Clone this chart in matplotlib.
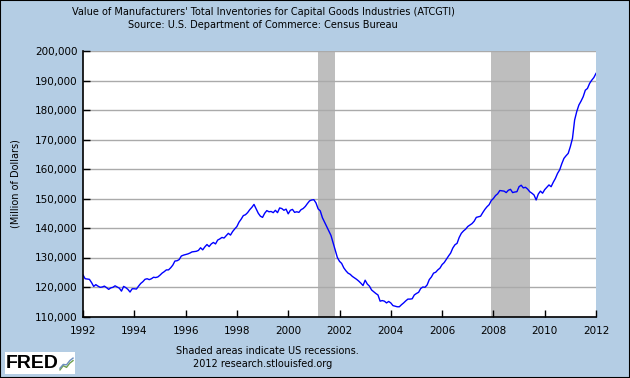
import numpy as np
import matplotlib
matplotlib.use('Agg')
import matplotlib.pyplot as plt
from matplotlib.ticker import FuncFormatter

# monthly values, thousands of millions of dollars
v1992 = [124.1, 122.8, 122.7, 122.6, 121.5, 120.2, 120.8, 120.3, 119.9, 120.0, 120.3, 119.8]
v1993 = [119.2, 119.7, 119.9, 120.4, 120.0, 119.6, 118.6, 120.2, 119.8, 119.2, 118.3, 119.4]
v1994 = [119.4, 119.3, 120.3, 121.2, 121.8, 122.6, 122.8, 122.5, 122.8, 123.3, 123.2, 123.4]
v1995 = [124.0, 124.7, 125.2, 125.8, 125.8, 126.5, 127.4, 128.8, 128.9, 129.3, 130.5, 130.8]
v1996 = [131.0, 131.2, 131.5, 131.9, 132.0, 132.1, 132.4, 133.3, 132.6, 133.6, 134.4, 133.7]
v1997 = [134.6, 135.1, 134.6, 135.9, 136.3, 136.8, 136.6, 137.4, 138.2, 137.6, 138.8, 139.7]
v1998 = [140.5, 142.0, 143.0, 144.2, 144.5, 145.2, 146.2, 147.0, 148.0, 146.5, 145.0, 144.0]
v1999 = [143.6, 145.0, 145.9, 145.5, 145.6, 145.2, 146.0, 145.2, 146.8, 146.6, 146.0, 146.4]
v2000 = [144.8, 146.0, 146.3, 145.3, 145.5, 145.3, 146.2, 146.6, 147.3, 148.3, 149.2, 149.5]
v2001 = [149.6, 148.5, 146.5, 145.8, 143.5, 142.0, 140.5, 139.0, 137.5, 135.0, 132.5, 130.0]
v2002 = [128.7, 128.0, 126.5, 125.5, 124.7, 124.3, 123.6, 123.1, 122.6, 122.0, 121.3, 120.5]
v2003 = [122.3, 121.0, 120.3, 119.0, 118.4, 117.8, 117.3, 115.2, 115.4, 115.2, 114.6, 115.1]
v2004 = [114.6, 113.7, 113.5, 113.3, 113.3, 114.0, 114.6, 115.3, 115.9, 115.9, 116.0, 117.3]
v2005 = [117.8, 118.2, 119.5, 120.0, 119.9, 120.7, 122.5, 123.4, 124.7, 125.0, 125.8, 126.4]
v2006 = [127.6, 128.3, 129.4, 130.5, 131.5, 133.2, 134.3, 134.8, 136.8, 138.2, 139.0, 139.6]
v2007 = [140.5, 141.0, 141.5, 142.3, 143.6, 143.8, 144.0, 145.2, 146.3, 147.2, 147.9, 149.3]
v2008 = [150.0, 151.0, 151.6, 152.7, 152.6, 152.5, 152.0, 152.8, 153.1, 152.0, 152.2, 152.3]
v2009 = [154.0, 154.5, 153.6, 153.8, 153.2, 152.3, 151.8, 151.2, 149.5, 151.5, 152.5, 151.8]
v2010 = [153.0, 153.8, 154.6, 154.0, 155.5, 156.8, 158.5, 159.7, 161.8, 163.6, 164.5, 165.3]
v2011 = [167.6, 170.4, 176.6, 179.5, 181.7, 183.0, 184.5, 186.7, 187.3, 189.0, 190.1, 191.0]
v2012 = [192.4]

values = np.array(v1992 + v1993 + v1994 + v1995 + v1996 + v1997 + v1998 + v1999 + v2000 +
                  v2001 + v2002 + v2003 + v2004 + v2005 + v2006 + v2007 + v2008 + v2009 +
                  v2010 + v2011 + v2012) * 1000
years = 1992 + np.arange(len(values)) / 12.0

# recessions (start, end) in decimal years
recessions = [(2001 + 2/12, 2001 + 10/12), (2007 + 11/12, 2009 + 5/12)]

bg = '#b4cde4'
fig = plt.figure(figsize=(6.3, 3.78), dpi=100, facecolor=bg)
ax = fig.add_axes([83/630, 1 - 316.5/378, 513/630, 265.5/378])
ax.set_facecolor('white')

for start, end in recessions:
    ax.axvspan(start, end, color='#bebebe', lw=0, zorder=1)

ax.plot(years, values, color='#0000ff', lw=1.0, zorder=3)

ax.set_xlim(1992, 2012)
ax.set_ylim(110000, 200000)
ax.set_xticks(range(1992, 2013, 2))
ax.set_yticks(range(110000, 200001, 10000))
ax.yaxis.set_major_formatter(FuncFormatter(lambda v, p: '{:,.0f}'.format(v)))
ax.grid(axis='y', color='#aaaaaa', lw=1.0, zorder=2)
ax.tick_params(direction='in', length=5, width=1, labelsize=7.5, colors='black', pad=4)
ax.tick_params(axis='x', pad=7)
for s in ['top', 'right']:
    ax.spines[s].set_visible(False)
for s in ['left', 'bottom']:
    ax.spines[s].set_linewidth(1.2)
    ax.spines[s].set_zorder(4)

ax.set_ylabel('(Million of Dollars)', fontsize=7, labelpad=10)

fig.text(263/630, 1 - 12/378, "Value of Manufacturers' Total Inventories for Capital Goods Industries (ATCGTI)",
         ha='center', va='center', fontsize=7)
fig.text(263/630, 1 - 25/378, 'Source: U.S. Department of Commerce: Census Bureau',
         ha='center', va='center', fontsize=7)
fig.text(267/630, 1 - 351/378, 'Shaded areas indicate US recessions.', ha='center', va='center', fontsize=7)
fig.text(263/630, 1 - 364/378, '2012 research.stlouisfed.org', ha='center', va='center', fontsize=7)

# FRED logo
fig.patches.append(plt.Rectangle((5/630, 1 - 374/378), 70/630, 22/378, transform=fig.transFigure,
                                 facecolor='white', edgecolor='none', zorder=1))
fig.text(6/630, 1 - 363/378, 'FRED', ha='left', va='center', fontsize=14, fontweight='bold',
         family='Liberation Sans', zorder=3)
icon = fig.add_axes([59/630, 1 - 372/378, 15/630, 16/378])
icon.set_zorder(3)
icon.patch.set_visible(False)
icon.plot([0, 1, 2, 3, 4], [0, 1, 0.6, 1.6, 2.2], color='#6fa04f', lw=1)
icon.plot([0, 1, 2, 3, 4], [0.4, 1.3, 1.2, 2.2, 2.8], color='#6c8ebf', lw=1)
icon.set_xlim(-0.3, 4.3)
icon.set_ylim(-0.5, 3.3)
icon.axis('off')

# frame around the whole picture
fig.patches.append(plt.Rectangle((0, 0), 1, 1, transform=fig.transFigure,
                                 facecolor='none', edgecolor='black', lw=1.5, zorder=5))

fig.savefig('out.png', dpi=100, facecolor=bg)
